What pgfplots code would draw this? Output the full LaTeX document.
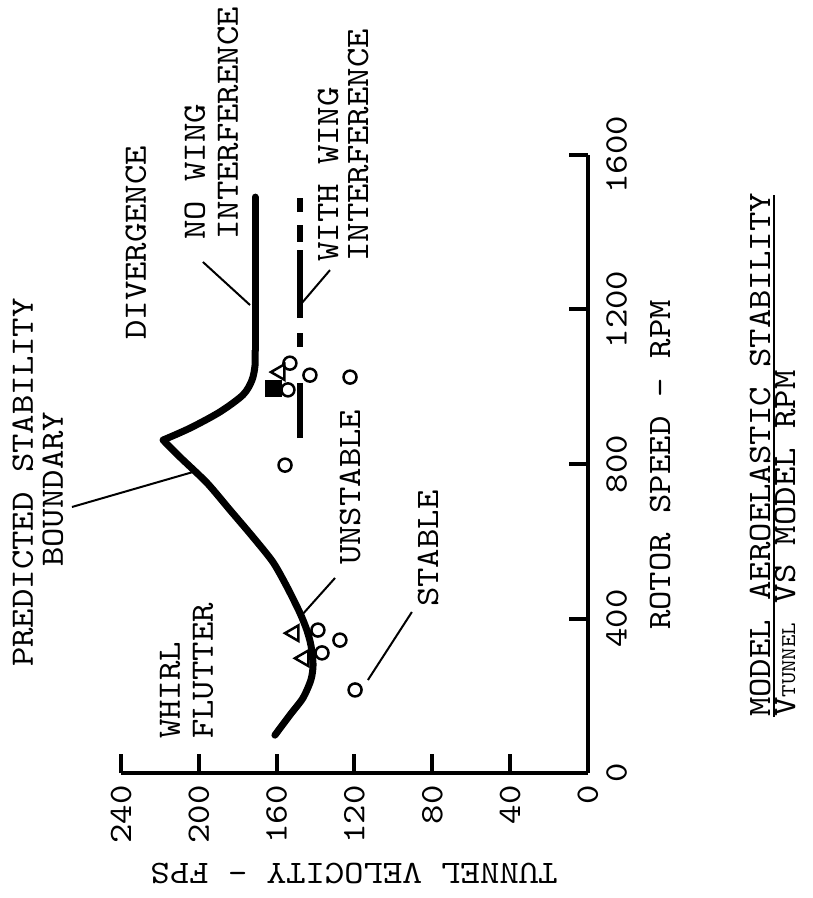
\documentclass[border=0pt]{standalone}
\usepackage{fontspec}
\usepackage{pgfplots}
\pgfplotsset{compat=1.18}
\newfontfamily\tw[FakeStretch=1.13]{lmmono10-regular.otf}
\newcommand\tf{\tw\fontsize{32.7}{32}\selectfont}
\newcommand\rl[3]{\node[rotate=90, anchor=base west, inner sep=0pt, font=\tf] at ([shift={({#1pt-588pt},{773pt-#2pt})}]O) {#3};}
\begin{document}
\begin{tikzpicture}
\begin{axis}[
  x={(0pt,0.38625pt)}, y={(-1.9458pt,0pt)},
  xmin=0,xmax=1600,ymin=0,ymax=240,
  axis x line=top, axis y line=right,
  axis line style={-, line width=4.5pt},
  major tick length=0pt,
  xtick={0,400,800,1200,1600},
  ytick={0,40,80,120,160,200,240},
  xticklabels={0,400,800,1200,1600},
  yticklabels={0,40,80,120,160,200,240},
  /pgf/number format/assume math mode=true,
  xticklabel style={font=\tf, rotate=90, anchor=north, inner xsep=0pt, inner ysep=18pt},
  yticklabel style={font=\tf, rotate=90, anchor=east, inner xsep=12pt, inner ysep=0pt},
  clip=false,
]
% axis ticks
\addplot[black, line width=4pt, unbounded coords=jump] coordinates {
(400,0) (400,9.8) (400,nan) (800,0) (800,9.8) (800,nan) (1200,0) (1200,9.8) (1200,nan) (1600,0) (1600,9.8)};
\addplot[black, line width=4pt, unbounded coords=jump] coordinates {
(0,40) (49,40) (49,nan) (0,80) (49,80) (49,nan) (0,120) (49,120) (49,nan)
(0,160) (49,160) (49,nan) (0,200) (49,200) (49,nan) (0,240) (49,240)};
% predicted stability boundary
\addplot[black, line width=7pt, smooth, tension=0.45, line cap=round] coordinates {
(98,160.9) (150,153.2) (194,146.5) (241,142.4) (280,141.3) (331,142.4) (370,144.5)
(414,148.0) (482,154.7) (546,161.9) (611,172.2) (681,184.0) (751,195.8) (818,209.7) (862,218.4)};
\addplot[black, line width=7pt, smooth, tension=0.5, line join=round] coordinates {
(862,218.4) (893,204.5) (935,189.1) (979,177.3) (1017,172.7) (1056,171.1) (1095,171.1)};
\addplot[black, line width=7pt, line cap=round] coordinates {(1095,171.1) (1491,171.1)};
% with wing interference (dashed)
\addplot[black, line width=5.5pt, unbounded coords=jump] coordinates {
(867,148) (1010,148) (1010,nan) (1103,148) (1139,148) (1139,nan)
(1178,148) (1354,148) (1354,nan) (1375,148) (1419,148) (1419,nan) (1452,148) (1489,148)};
% stable (circles)
\addplot[black, only marks, mark=o, mark size=6.5pt, line width=2.5pt] coordinates {
(215,119.7) (311,136.7) (370,138.8) (344,127.5) (797,155.7) (992,154.2) (1030,142.9) (1025,122.3) (1061,153.2)};
% unstable (triangles)
\addplot[black, only marks, mark=triangle, mark size=9pt, line width=2.5pt, mark options={rotate=90}] coordinates {
(362,151.1) (297,146) (1038,158.3)};
\addplot[black, only marks, mark=square*, mark size=8pt] coordinates {(997,161.9)};
% leader lines
\addplot[black, line width=2pt] coordinates {(688.7,265.2) (779.3,203.0)};
\addplot[black, line width=2pt] coordinates {(504.9,130.0) (409.1,147.0)};
\addplot[black, line width=2pt] coordinates {(416.8,90.5) (240.8,113.1)};
\addplot[black, line width=2pt] coordinates {(1323,197.9) (1211.6,173.7)};
\addplot[black, line width=2pt] coordinates {(1302,132.6) (1217,147)};
\coordinate (O) at (axis cs:0,0);
\end{axis}
\path ([shift={(-588pt,773pt)}]O) rectangle ([shift={(225pt,-125pt)}]O);
\rl{33}{667}{PREDICTED STABILITY}
\rl{63}{567}{BOUNDARY}
\rl{180}{739}{WHIRL}
\rl{213}{739}{FLUTTER}
\rl{146}{340}{DIVERGENCE}
\rl{205}{240}{NO WING}
\rl{238}{240}{INTERFERENCE}
\rl{338}{262}{WITH WING}
\rl{368}{262}{INTERFERENCE}
\rl{360}{565}{UNSTABLE}
\rl{438}{607}{STABLE}
\rl{670}{630}{ROTOR SPEED - RPM}
\rl{770}{717}{MODEL AEROELASTIC STABILITY}
\rl{795}{717}{V{\fontsize{21}{21}\selectfont TUNNEL} VS MODEL RPM}
\draw[line width=2.5pt] ([shift={(186pt,56pt)}]O) -- ([shift={(186pt,578pt)}]O);
\node[rotate=180, anchor=base, inner sep=0pt, font=\tf] at ([shift={(-234pt,-90pt)}]O) {TUNNEL VELOCITY - FPS};
\end{tikzpicture}
\end{document}
